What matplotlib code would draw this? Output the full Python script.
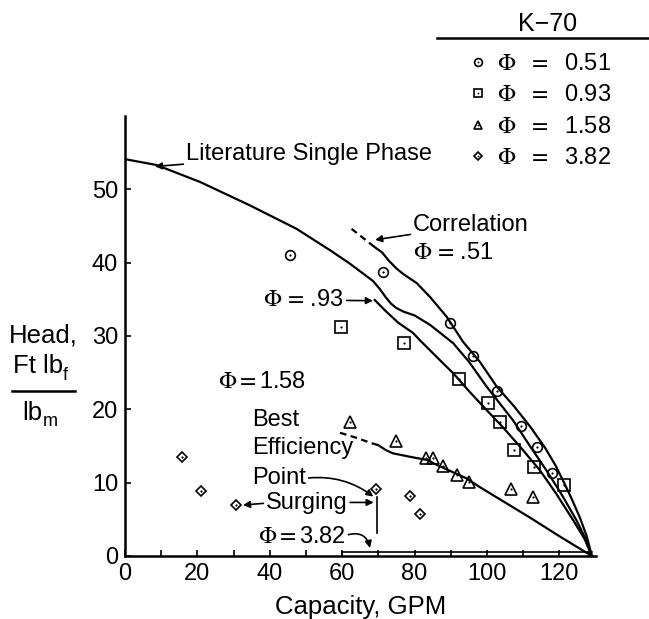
import matplotlib
matplotlib.use("Agg")
import matplotlib.pyplot as plt
from matplotlib.lines import Line2D
from matplotlib.legend_handler import HandlerTuple

plt.rcParams["font.family"] = ["Liberation Sans", "DejaVu Sans"]
plt.rcParams["mathtext.fontset"] = "stix"

# ---- measured points (capacity GPM, head ft lbf/lbm) ----
phi051_x = [45.5, 71.2, 89.8, 96.2, 102.7, 109.5, 113.7, 118.0]
phi051_y = [41.0, 38.7, 31.7, 27.2, 22.5, 17.7, 14.9, 11.3]

phi093_x = [59.8, 77.0, 92.3, 100.3, 103.6, 107.5, 113.1, 121.3]
phi093_y = [31.2, 29.1, 24.1, 20.9, 18.3, 14.5, 12.1, 9.7]

phi158_x = [62.3, 75.0, 83.1, 85.1, 87.9, 91.8, 95.0, 106.6, 112.8]
phi158_y = [18.2, 15.7, 13.4, 13.4, 12.2, 11.0, 10.1, 9.2, 8.1]

phi382_x = [15.8, 21.0, 30.6, 69.3, 78.7, 81.5]
phi382_y = [13.5, 8.9, 6.9, 9.1, 8.2, 5.7]

# ---- curves ----
lit_x = [0, 8.7, 20.7, 34.5, 47.4, 56.6, 62, 65.8, 68.5, 70.4, 72, 73.5, 75, 77,
         80, 84.3, 90.7, 95, 99.9, 104.5, 107.2, 112, 116.4, 120.5, 124.7, 127, 129]
lit_y = [54.1, 53.3, 51.0, 47.8, 44.6, 41.7, 39.9, 38.5, 37.5, 36.4, 35.3, 34.4,
         33.8, 33.3, 32.8, 31.5, 29.0, 26.5, 23.1, 20.2, 18.5, 14.9, 11.7, 8.5,
         4.9, 2.6, 0]

corr_dash_x = [62.6, 69.0]
corr_dash_y = [44.6, 42.1]
corr_x = [69, 71, 73, 75, 77, 80.6, 84.3, 88.9, 93.4, 98, 102.7, 107.5, 112, 116,
          119, 121.3, 123.5, 125.7, 127.5, 129]
corr_y = [42.1, 41.4, 40.2, 39.2, 38.4, 37.2, 35.3, 32.6, 29.2, 26.5, 23.1, 20.4,
          17.6, 14.8, 12.3, 10.0, 7.7, 5.2, 2.8, 0]

c093_x = [69, 72, 75.5, 79.6, 81.5, 87, 90.7, 95, 99.9, 104.5, 109.5, 114.6, 119,
          123.8, 127, 129]
c093_y = [34.9, 33.4, 31.8, 30.4, 29.4, 26.7, 24.9, 22.5, 19.9, 17.5, 14.7, 11.7,
          8.6, 4.9, 2.3, 0]

c158_dash_x = [59.4, 64, 68, 70]
c158_dash_y = [16.8, 16.1, 15.4, 15.1]
c158_x = [70, 72.2, 74, 76, 79, 83.3, 88, 94.3, 98, 105, 112, 120, 129]
c158_y = [15.1, 14.4, 14.0, 13.8, 13.5, 13.1, 12.0, 10.6, 9.4, 7.3, 5.2, 2.7, 0]

c382_x = [60, 129]
c382_y = [0.5, 0.5]

surge_x = [69.6, 69.6]
surge_y = [8.1, 3.2]

xticks = [0, 20, 40, 60, 80, 100, 120]
yticks = [0, 10, 20, 30, 40, 50]

legend_labels = [r"$\Phi$  $=$  0.51", r"$\Phi$  $=$  0.93",
                 r"$\Phi$  $=$  1.58", r"$\Phi$  $=$  3.82"]

FS = 17

fig = plt.figure(figsize=(6.49, 6.19), dpi=100)
ax = fig.add_axes([0.1926, 0.1018, 0.725, 0.711])
ax.set_xlim(0, 130)
ax.set_ylim(0, 60)

lw = 1.6
ax.plot(lit_x, lit_y, color="black", lw=lw)
ax.plot(corr_x, corr_y, color="black", lw=lw)
ax.plot(corr_dash_x, corr_dash_y, color="black", lw=lw, ls=(0, (3, 2)))
ax.plot(c093_x, c093_y, color="black", lw=lw)
ax.plot(c158_x, c158_y, color="black", lw=lw)
ax.plot(c158_dash_x, c158_dash_y, color="black", lw=lw, ls=(0, (3, 2)))
ax.plot(c382_x, c382_y, color="black", lw=1.2)
ax.plot([c382_x[0], c382_x[0]], [0, c382_y[0]], color="black", lw=1.2)
ax.plot(surge_x, surge_y, color="black", lw=1.2)


def dotted_marker(x, y, marker, size):
    outer, = ax.plot(x, y, ls="none", marker=marker, ms=size, mfc="none",
                     mec="black", mew=1.2)
    inner, = ax.plot(x, y, ls="none", marker="o", ms=1.6, mfc="black",
                     mec="black", mew=0)
    return outer, inner


h1 = dotted_marker(phi051_x, phi051_y, "o", 7)
h2 = dotted_marker(phi093_x, phi093_y, "s", 8)
h3 = dotted_marker(phi158_x, phi158_y, "^", 8)
h4 = dotted_marker(phi382_x, phi382_y, "D", 5.5)

for s in ("top", "right"):
    ax.spines[s].set_visible(False)
for s in ("left", "bottom"):
    ax.spines[s].set_linewidth(1.8)

ax.set_xticks(xticks)
ax.set_xticks(range(10, 130, 20), minor=True)
ax.set_yticks(yticks)
ax.tick_params(direction="in", length=4, width=1.2, labelsize=FS, pad=5)
ax.tick_params(which="minor", direction="in", length=4, width=1.2)

ax.set_xlabel("Capacity, GPM", fontsize=18.5, labelpad=7)


def fy(py):
    return 1 - py / 619


def fx(px):
    return px / 649


# y label as stacked text with a fraction bar
fig.text(fx(43), fy(343), "Head,", fontsize=18.5, ha="center", va="baseline")
fig.text(fx(13), fy(373), "Ft lb", fontsize=18.5, ha="left", va="baseline")
fig.text(fx(63), fy(380), "f", fontsize=13, ha="left", va="baseline")
fig.add_artist(Line2D([fx(12), fx(75)], [fy(391), fy(391)],
                      color="black", lw=1.8))
fig.text(fx(22), fy(420), "lb", fontsize=18.5, ha="left", va="baseline")
fig.text(fx(43), fy(426), "m", fontsize=13, ha="left", va="baseline")

arrow = dict(arrowstyle="-|>", color="black", lw=1.2, mutation_scale=10,
             shrinkA=0, shrinkB=0)

ax.annotate("Literature Single Phase", xy=(8.3, 53.1), xytext=(16.9, 54.8),
            fontsize=FS, ha="left", va="center", arrowprops=arrow)
ax.annotate("Correlation", xy=(69.1, 43.1), xytext=(79.6, 45.1),
            fontsize=FS, ha="left", va="center", arrowprops=arrow)
ax.text(79.6, 41.3, r"$\Phi\,{=}\,$.51", fontsize=FS, ha="left", va="center")
ax.annotate(r"$\Phi\,{=}\,$.93", xy=(68.5, 34.8), xytext=(60.5, 34.9),
            fontsize=FS, ha="right", va="center", arrowprops=arrow)
ax.text(25.7, 23.7, r"$\Phi{=}$1.58", fontsize=FS, ha="left", va="center")
ax.text(35.1, 18.5, "Best", fontsize=FS, ha="left", va="center")
ax.text(35.1, 14.7, "Efficiency", fontsize=FS, ha="left", va="center")
ax.annotate("Point", xy=(68.6, 8.1), xytext=(35.1, 10.6),
            fontsize=FS, ha="left", va="center",
            arrowprops=dict(arrow, connectionstyle="arc3,rad=-0.2",
                            relpos=(1.0, 0.5)))
ax.annotate("Surging", xy=(32.6, 6.95), xytext=(39.0, 7.2),
            fontsize=FS, ha="left", va="center",
            arrowprops=dict(arrow, relpos=(0.0, 0.5)))
ax.annotate("", xy=(68.7, 7.3), xytext=(62.2, 7.3), arrowprops=arrow)
ax.annotate(r"$\Phi{=}$3.82", xy=(67.7, 1.1), xytext=(36.7, 2.6),
            fontsize=FS, ha="left", va="center",
            arrowprops=dict(arrow, connectionstyle="arc3,rad=-0.5",
                            relpos=(1.03, 0.6)))

leg = ax.legend([h1, h2, h3, h4], legend_labels,
                handler_map={tuple: HandlerTuple(ndivide=1)},
                fontsize=FS, frameon=False, loc="upper left",
                bbox_to_anchor=(fx(469), fy(53)),
                bbox_transform=fig.transFigure, markerscale=0.8,
                handlelength=0.8, handletextpad=0.4, labelspacing=0.4,
                borderpad=0, borderaxespad=0)
fig.text(fx(548), fy(24), "K\u221270", fontsize=18, ha="center", va="center")
fig.add_artist(Line2D([fx(437), 1.0], [fy(38), fy(38)], color="black", lw=1.8))

fig.savefig("out.png", dpi=100)
